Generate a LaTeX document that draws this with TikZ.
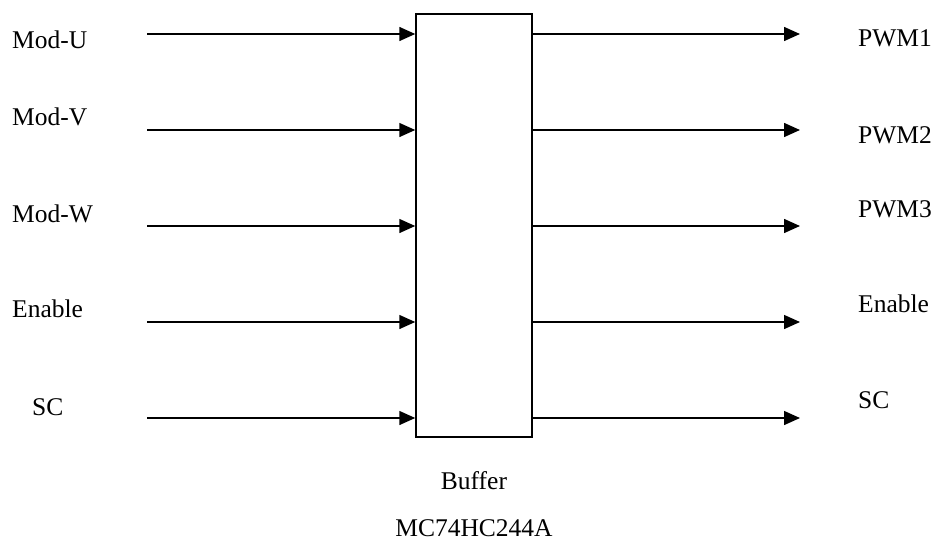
\documentclass[tikz,border=0pt]{standalone}
\usepackage{fontspec}
\setmainfont{Liberation Serif}
\usetikzlibrary{arrows.meta}
\begin{document}
\begin{tikzpicture}[x=1pt,y=-1pt,
  lbl/.style={anchor=base west,inner sep=0pt,font=\fontsize{25.5}{30}\selectfont},
  ctr/.style={anchor=base,inner sep=0pt,font=\fontsize{25.5}{30}\selectfont},
  sig/.style={line width=1.5pt,-{Triangle[length=16pt,width=14pt]}},
  bufbox/.style={draw,line width=1.5pt,minimum width=116pt,minimum height=423pt,inner sep=0pt}]
\useasboundingbox (0,0) rectangle (938,541);
\node[bufbox] (box) at (474,225.5) {};
% input starts
\coordinate (i1) at (147,34);
\coordinate (i2) at (147,130);
\coordinate (i3) at (147,226);
\coordinate (i4) at (147,322);
\coordinate (i5) at (147,418);
% output ends
\coordinate (o1) at (800,34);
\coordinate (o2) at (800,130);
\coordinate (o3) at (800,226);
\coordinate (o4) at (800,322);
\coordinate (o5) at (800,418);
\foreach \k in {1,...,5}{
  \draw[sig] (i\k) -- (i\k -| box.west);
  \draw[sig] (o\k -| box.east) -- (o\k);
}
% left labels
\node[lbl] (lu) at (12,48) {Mod-U};
\node[lbl] (lv) at (12,125) {Mod-V};
\node[lbl] (lw) at (12,222) {Mod-W};
\node[lbl] (le) at (12,317) {Enable};
\node[lbl] (ls) at (32,415) {SC};
% right labels
\node[lbl] (r1) at (858,46) {PWM1};
\node[lbl] (r2) at (858,143) {PWM2};
\node[lbl] (r3) at (858,217) {PWM3};
\node[lbl] (r4) at (858,312) {Enable};
\node[lbl] (r5) at (858,408) {SC};
% captions
\node[ctr] (cap1) at (474,489) {Buffer};
\node[ctr] (cap2) at (474,536) {MC74HC244A};
\end{tikzpicture}
\end{document}
